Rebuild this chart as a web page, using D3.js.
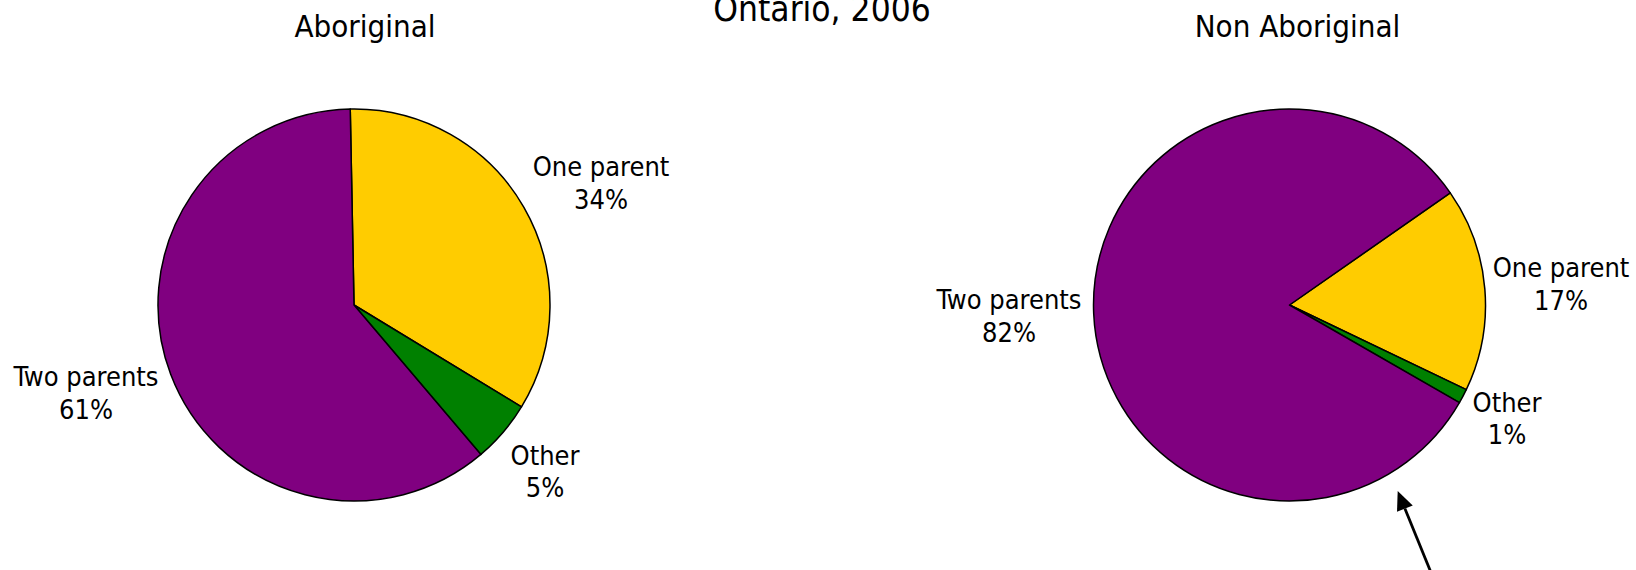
<!DOCTYPE html>
<html>
<head>
<meta charset="utf-8">
<script src="https://cdn.jsdelivr.net/npm/d3@7/dist/d3.min.js"></script>
<style>
  html, body { margin: 0; padding: 0; background: #fff; }
  svg text { font-family: "DejaVu Sans Condensed", "DejaVu Sans", sans-serif; font-stretch: condensed; fill: #000; }
</style>
</head>
<body>
<svg id="chart" width="1636" height="570"></svg>
<script>
// ---- data ----
const mainTitle = "Ontario, 2006";
const panelTitles = ["Aboriginal", "Non Aboriginal"];
const categories = ["One parent", "Other", "Two parents"];
const aboriginalValues = [34.0, 5.1, 60.9];
const nonAboriginalValues = [16.8, 1.2, 82.0];
const colors = ["#FFCC00", "#008000", "#800080"];

// ---- layout ----
const svg = d3.select("#chart");
const R = 196;
const panels = [
  { title: panelTitles[0], values: aboriginalValues, cx: 354, cy: 305, start: -1.1, titleX: 365,
    labels: [[247, -129], [191, 159.5], [-268, 81]] },
  { title: panelTitles[1], values: nonAboriginalValues, cx: 1289.5, cy: 305, start: 55.1, titleX: 1297.5,
    labels: [[271.5, -28], [217.5, 106.7], [-280.5, 4]] }
];
const labelSize = 27, lineGap = 32.5;

svg.append("text").attr("x", 822).attr("y", 20.5).attr("text-anchor", "middle")
  .style("font-size", "35px").text(mainTitle);

const arc = d3.arc().innerRadius(0).outerRadius(R);

panels.forEach(p => {
  const a0 = p.start * Math.PI / 180;
  const pie = d3.pie().sort(null).startAngle(a0).endAngle(a0 + 2 * Math.PI);
  const arcs = pie(p.values);
  const g = svg.append("g").attr("transform", `translate(${p.cx},${p.cy})`);
  g.selectAll("path").data(arcs).join("path")
    .attr("d", arc)
    .attr("fill", (d, i) => colors[i])
    .attr("stroke", "#000")
    .attr("stroke-width", 1.5)
    .attr("stroke-linejoin", "round");

  svg.append("text").attr("x", p.titleX).attr("y", 36.7).attr("text-anchor", "middle")
    .style("font-size", "31px").text(p.title);

  arcs.forEach((d, i) => {
    const t = g.append("text").attr("text-anchor", "middle").style("font-size", labelSize + "px");
    t.append("tspan").attr("x", p.labels[i][0]).attr("y", p.labels[i][1]).text(categories[i]);
    t.append("tspan").attr("x", p.labels[i][0]).attr("y", p.labels[i][1] + lineGap)
      .text(Math.round(p.values[i]) + "%");
  });
});

// arrow pointing to the Non Aboriginal pie
const tip = [1397.7, 491], tail = [1432, 575];
const ang = Math.atan2(tail[1] - tip[1], tail[0] - tip[0]);
const headLen = 19, headHalf = 8.5;
const bx = tip[0] + headLen * Math.cos(ang), by = tip[1] + headLen * Math.sin(ang);
svg.append("line").attr("x1", tail[0]).attr("y1", tail[1]).attr("x2", bx).attr("y2", by)
  .attr("stroke", "#000").attr("stroke-width", 2.8);
svg.append("path")
  .attr("d", `M${tip[0]},${tip[1]}L${bx + headHalf * Math.sin(ang)},${by - headHalf * Math.cos(ang)}L${bx - headHalf * Math.sin(ang)},${by + headHalf * Math.cos(ang)}Z`)
  .attr("fill", "#000");
</script>
</body>
</html>
